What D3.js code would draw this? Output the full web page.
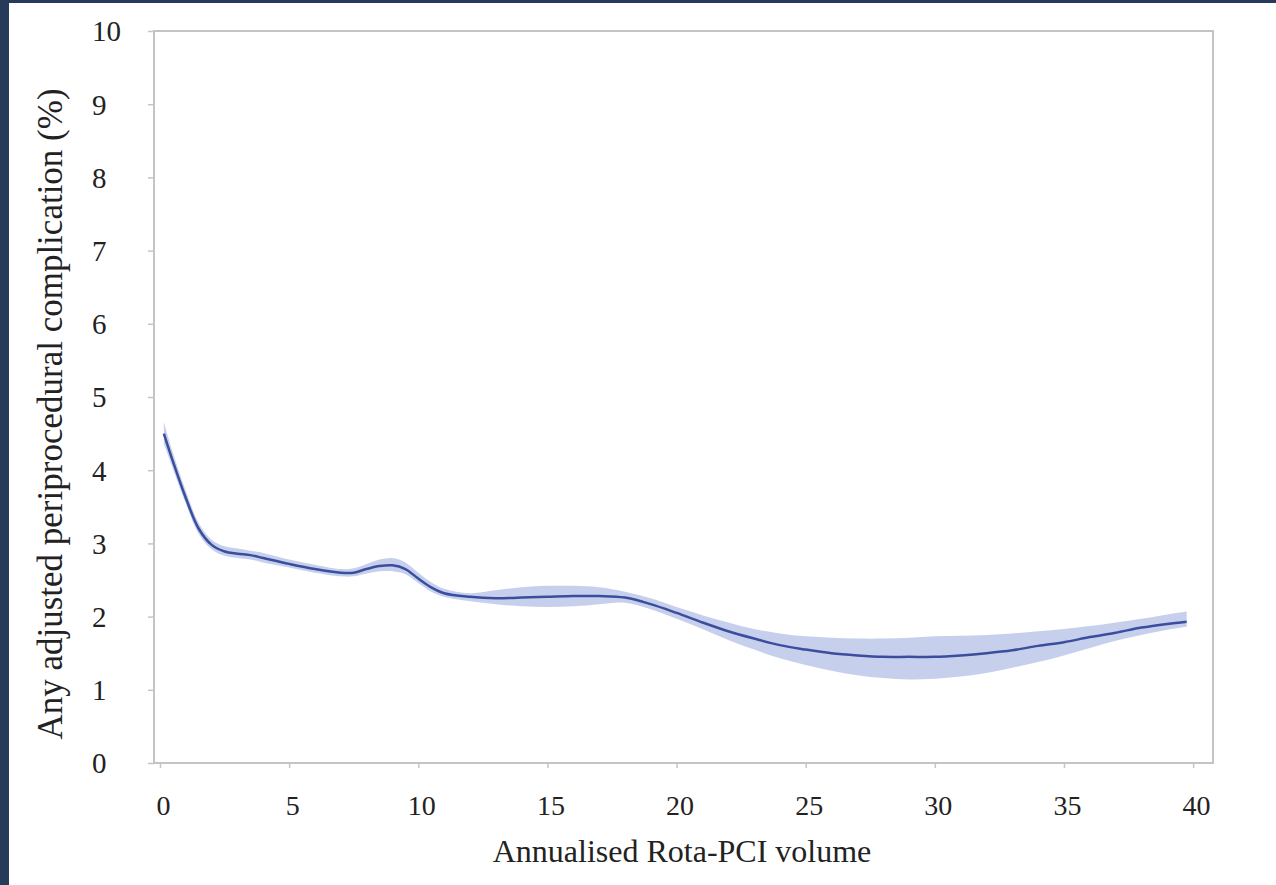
<!DOCTYPE html>
<html>
<head>
    <meta charset="utf-8">
    <style>
        body {
            margin: 0;
            background: #ffffff;
        }

        svg {
            display: block;
        }

        .tick text {
            font-family: "Liberation Serif", "Times New Roman", serif;
            fill: #222;
        }

        .title {
            font-family: "Liberation Serif", "Times New Roman", serif;
            fill: #222;
        }

        .domain {
            display: none;
        }

        .tick line {
            stroke: #c4c4c4;
            stroke-width: 1.5;
        }
    </style>
</head>
<body>
    <svg width="1276" height="885"></svg>

<script src="https://cdnjs.cloudflare.com/ajax/libs/d3/7.8.5/d3.min.js"></script>
<script>

    // annualised volume (x) and spline fit with 95% band (y, %)
    let volume = [0.15, 0.5, 1, 1.5, 2, 2.5, 3, 3.5, 4, 5, 6, 7, 7.5, 8, 8.5, 9, 9.5, 10, 10.5, 11, 12, 13, 14, 15, 16, 17, 18, 19, 20, 21, 22, 23, 24, 25, 26, 27, 28, 29, 30, 31, 32, 33, 34, 35, 36, 37, 38, 39, 39.75]
    let fit = [4.5, 4.12, 3.62, 3.2, 2.98, 2.89, 2.86, 2.84, 2.8, 2.72, 2.65, 2.6, 2.6, 2.65, 2.69, 2.7, 2.65, 2.52, 2.4, 2.32, 2.27, 2.25, 2.26, 2.27, 2.28, 2.28, 2.26, 2.17, 2.05, 1.92, 1.8, 1.7, 1.61, 1.55, 1.5, 1.47, 1.45, 1.45, 1.45, 1.47, 1.5, 1.54, 1.6, 1.65, 1.72, 1.78, 1.85, 1.9, 1.93]
    let lower = [4.36, 4.02, 3.54, 3.13, 2.92, 2.83, 2.8, 2.78, 2.74, 2.67, 2.6, 2.55, 2.55, 2.59, 2.62, 2.62, 2.58, 2.46, 2.34, 2.27, 2.21, 2.17, 2.14, 2.13, 2.14, 2.17, 2.19, 2.1, 1.97, 1.83, 1.68, 1.55, 1.43, 1.34, 1.26, 1.2, 1.16, 1.14, 1.15, 1.18, 1.23, 1.3, 1.38, 1.47, 1.57, 1.67, 1.75, 1.82, 1.86]
    let upper = [4.66, 4.24, 3.72, 3.28, 3.05, 2.96, 2.93, 2.9, 2.87, 2.78, 2.71, 2.65, 2.66, 2.72, 2.78, 2.8, 2.74, 2.6, 2.47, 2.38, 2.32, 2.36, 2.4, 2.42, 2.42, 2.4, 2.34, 2.25, 2.13, 2.02, 1.92, 1.83, 1.77, 1.73, 1.71, 1.7, 1.7, 1.71, 1.73, 1.74, 1.75, 1.77, 1.8, 1.83, 1.87, 1.92, 1.97, 2.03, 2.07]

    let xTicks = [0, 5, 10, 15, 20, 25, 30, 35, 40]
    let yTicks = [0, 1, 2, 3, 4, 5, 6, 7, 8, 9, 10]

    let data = volume.map(function (v, i) {
        return { v: v, fit: fit[i], lo: lower[i], hi: upper[i] }
    })

    let svg = d3.select("svg")

    // dark frame strips on the left and top edge
    svg.append("rect")
        .attr("x", 0).attr("y", 0)
        .attr("width", 1276).attr("height", 3)
        .style("fill", "#263a59")
    svg.append("rect")
        .attr("x", 0).attr("y", 0)
        .attr("width", 9).attr("height", 885)
        .style("fill", "#263a59")

    let plot = { left: 154, right: 1213, top: 31, bottom: 763 }

    let x = d3.scaleLinear()
        .domain([-0.232, 40.77])
        .range([plot.left, plot.right])

    let y = d3.scaleLinear()
        .domain([0, 10])
        .range([plot.bottom, plot.top])

    // y axis
    let yAxis = svg.append("g")
        .attr("class", "y axis")
        .attr("transform", `translate(${plot.left},0)`)
        .call(d3.axisLeft(y).tickValues(yTicks).tickSize(6).tickPadding(0))

    yAxis.selectAll(".tick text")
        .attr("x", 92 - plot.left)
        .attr("dy", "0.34em")
        .style("text-anchor", "start")
        .style("font-size", "29px")

    // x axis
    let xAxis = svg.append("g")
        .attr("class", "x axis")
        .attr("transform", `translate(0,${plot.bottom})`)
        .call(d3.axisBottom(x).tickValues(xTicks).tickSize(5).tickPadding(0))

    xAxis.selectAll(".tick text")
        .attr("y", 52)
        .attr("dy", 0)
        .attr("dx", 3)
        .style("font-size", "28px")

    // plot frame
    svg.append("rect")
        .attr("x", plot.left)
        .attr("y", plot.top)
        .attr("width", plot.right - plot.left)
        .attr("height", plot.bottom - plot.top)
        .style("fill", "none")
        .style("stroke", "#c4c4c4")
        .style("stroke-width", 2)

    let band = d3.area()
        .x(d => x(d.v))
        .y0(d => y(d.lo))
        .y1(d => y(d.hi))
        .curve(d3.curveCatmullRom)

    svg.append("path")
        .datum(data)
        .attr("d", band)
        .style("fill", "#c6d0ec")

    let line = d3.line()
        .x(d => x(d.v))
        .y(d => y(d.fit))
        .curve(d3.curveCatmullRom)

    svg.append("path")
        .datum(data)
        .attr("d", line)
        .style("fill", "none")
        .style("stroke", "#3a4d9e")
        .style("stroke-width", 2.5)

    // axis titles
    svg.append("text")
        .attr("class", "title")
        .attr("x", 682)
        .attr("y", 862)
        .style("text-anchor", "middle")
        .style("font-size", "32px")
        .text("Annualised Rota-PCI volume")

    svg.append("text")
        .attr("class", "title")
        .attr("transform", "translate(62,414) rotate(-90)")
        .style("text-anchor", "middle")
        .style("font-size", "35px")
        .text("Any adjusted periprocedural complication (%)")

</script>
</body>
</html>
